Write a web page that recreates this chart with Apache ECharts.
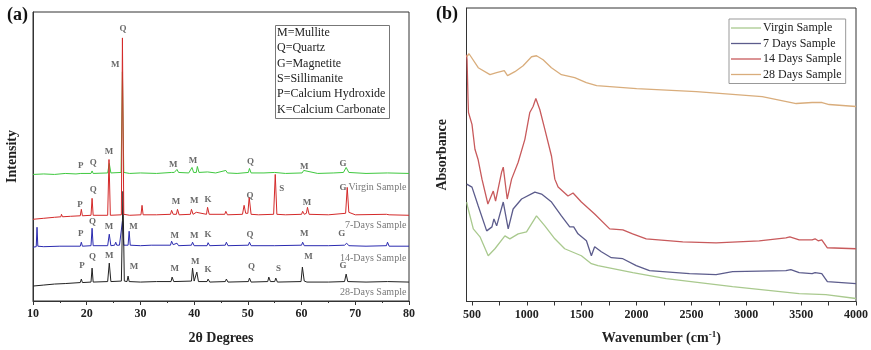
<!DOCTYPE html>
<html>
<head>
<meta charset="utf-8">
<script src="https://cdn.jsdelivr.net/npm/echarts@6/dist/echarts.min.js"></script>
<style>
  html, body { margin: 0; padding: 0; background: #fff; }
  #chart { width: 871px; height: 350px; }
</style>
</head>
<body>
<div id="chart"></div>
<script>
// ---- panel (a): XRD patterns, stacked traces [2theta, intensity (offset a.u.)]
const xrdVirgin = [[10,127],[12,127.5],[14,127],[16,128],[18,127.5],[18.9,128],[19.0,129.5],[19.2,128],[20.8,128],[21.0,130.5],[21.2,128],[23.9,128.5],[24.2,138],[24.5,128.5],[26.4,129],[26.65,230],[26.9,129],[28,128],[30,128.5],[33,128],[35.8,129],[36.0,131],[36.3,129],[36.8,132],[37.1,129],[39,128.5],[39.6,134],[39.9,129],[40.4,129],[40.6,135],[40.9,129],[42.5,129.5],[44,128.5],[45.9,131],[46.2,128.5],[48,128],[50.1,129],[50.3,133],[50.6,128.5],[53,128.5],[55,129],[57,128],[60.1,128.5],[60.4,131],[60.7,129],[63,128],[66,128.5],[67.8,129],[68.3,134],[68.8,129],[72,128],[76,128.5],[80,128]];
const xrd7Days = [[10,82],[12,83],[14,84],[15.2,84.5],[15.3,87],[15.5,84.5],[17,85],[18.8,85.5],[19.0,92],[19.2,85.5],[20.8,86],[21.0,103],[21.2,86],[23.9,86],[24.15,142],[24.4,86],[26.45,86.5],[26.65,264],[26.9,87],[28,86],[30.1,86.5],[30.3,96],[30.5,86.5],[33,86.5],[35.6,87],[35.8,91],[36.1,87],[36.7,87],[36.9,92],[37.2,86.5],[39.3,87],[39.5,92],[39.8,87],[40.4,89],[40.7,87],[42.3,87],[42.5,94],[42.8,87],[45.7,87],[45.9,90],[46.2,86.5],[49.0,87],[49.3,96],[49.6,88],[50.0,88],[50.25,104],[50.6,87],[52,86.5],[54.8,87],[55.1,127],[55.4,87],[57,86.5],[60.0,87],[60.2,90],[60.5,87],[60.9,88],[61.1,94],[61.4,87],[65,86.5],[68.2,88],[68.5,114],[68.8,89],[70,86.5],[75.8,87],[76,89],[76.3,86.5],[80,86]];
const xrd14Days = [[10,54],[10.6,54.5],[10.75,74],[10.9,55],[12,54.5],[15,55],[18.8,55],[19.0,59],[19.2,55],[20.8,55.5],[21.0,73],[21.2,55.5],[23.9,55.5],[24.2,67],[24.5,55.5],[25.2,56],[25.4,59],[25.6,56],[25.9,58],[26.1,56],[26.45,56],[26.65,80],[26.9,56],[27.7,56],[27.9,70],[28.1,56],[30,55.5],[32,56],[35.6,56],[35.8,60],[36.1,56.5],[36.8,58],[37.1,55.5],[39.5,56],[39.7,59],[40,55.5],[42.4,55.5],[42.6,58.5],[42.9,55.5],[45.8,56],[46,59],[46.3,55.5],[50.1,56],[50.3,59],[50.6,55.5],[55,55.5],[60,56],[60.2,59],[60.5,55.5],[65,55.5],[68.0,56],[68.4,58],[68.8,55.5],[72,55],[75.8,55.5],[76.0,59],[76.3,55],[80,55]];
const xrd28Days = [[10,15],[12,16],[14,17],[16,17.5],[18.8,18.5],[19.0,22],[19.2,18.5],[20.8,19],[21.0,33],[21.2,19],[23.9,19.5],[24.2,38],[24.5,19.5],[26.45,20],[26.75,110],[27.0,20],[27.5,19.5],[27.7,25],[27.9,19.5],[30,19],[33,19.5],[35.7,19.5],[35.9,24],[36.2,19.5],[39.5,20],[39.7,33],[40,20],[40.3,20],[40.5,29],[40.8,19.5],[42.4,19.5],[42.6,22],[42.9,19],[45.8,19.5],[46,22],[46.3,19],[50.1,19.5],[50.3,23],[50.6,19],[53.7,19.5],[53.9,24],[54.2,19.5],[55,19.5],[55.2,23],[55.5,19],[59.9,19.5],[60.15,34],[60.5,20],[60.8,21],[61.0,19],[65,19],[68.0,19.5],[68.3,27],[68.6,19.5],[72,19],[76,19.5],[80,19]];

// phase letters above peaks [2theta, height, letter]
const peakLabels = [
  [18.9,136,'P'],[21.2,139,'Q'],[24.15,150,'M'],[25.3,237,'M'],[26.75,273,'Q'],[36.1,137,'M'],[39.8,141,'M'],[50.5,140,'Q'],[60.5,135,'M'],[67.7,138,'G'],
  [18.75,97,'P'],[21.2,112,'Q'],[36.6,100,'M'],[40.0,101,'M'],[42.6,102,'K'],[50.4,106,'Q'],[56.3,113,'S'],[61.0,99,'M'],[67.7,114,'G'],
  [18.9,68,'P'],[21.1,80,'Q'],[24.15,75,'M'],[28.7,75,'M'],[36.4,66,'M'],[40.0,66,'M'],[42.6,67,'K'],[50.4,67,'Q'],[60.5,68,'M'],[67.5,68,'G'],
  [19.1,35,'P'],[21.1,44,'Q'],[24.2,45,'M'],[28.8,34,'M'],[36.4,32,'M'],[40.2,39,'M'],[42.6,31,'K'],[50.7,34,'Q'],[55.7,32,'S'],[61.3,44,'M'],[67.7,35,'G']
];
const sampleNames = [[79.6,114,'Virgin Sample'],[79.6,76,'7-Days Sample'],[79.6,43,'14-Days Sample'],[79.6,9,'28-Days Sample']];
const phaseKey = ['M=Mullite','Q=Quartz','G=Magnetite','S=Sillimanite','P=Calcium Hydroxide','K=Calcium Carbonate'];

// ---- panel (b): FTIR spectra [wavenumber, absorbance (offset a.u.)]
const ftirVirgin = [[452,100],[461,95],[512,73],[573,65],[648,46],[709,53],[800,66],[845,63],[921,68],[997,70],[1088,86],[1164,76],[1255,63],[1345,53],[1497,46],[1588,38],[1648,36],[1966,29],[2270,23],[2875,15],[3482,8],[3725,7],[4000,3]];
const ftir7Days = [[452,118],[461,116],[500,115],[557,96],[634,71],[682,75],[700,83],[725,76],[785,100],[830,73],[875,93],[952,103],[1073,110],[1134,108],[1225,100],[1315,86],[1391,75],[1427,75],[1466,68],[1543,61],[1588,46],[1618,55],[1679,50],[1770,44],[1875,43],[1997,36],[2118,31],[2482,28],[2725,27],[2875,30],[3361,31],[3406,32],[3482,29],[3600,28],[3627,29],[3688,28],[3739,20],[4000,18]];
const ftir14Days = [[450,248],[455,243],[464,203],[468,190],[500,178],[527,153],[555,143],[591,123],[645,98],[694,111],[715,101],[770,130],[785,135],[821,103],[861,123],[921,140],[982,163],[1027,190],[1057,196],[1082,204],[1118,193],[1164,173],[1225,146],[1255,123],[1285,115],[1375,106],[1421,109],[1497,100],[1618,88],[1755,73],[1875,72],[1964,68],[2088,63],[2421,60],[2725,59],[3118,61],[3361,64],[3397,65],[3482,62],[3600,62],[3627,63],[3655,61],[3688,62],[3739,54],[4000,53]];
const ftir28Days = [[452,246],[461,248],[473,249],[557,235],[664,228],[724,230],[794,232],[824,227],[891,231],[966,237],[1043,246],[1088,247],[1148,243],[1224,235],[1315,228],[1436,225],[1542,220],[1636,217],[2000,214],[2545,211],[3145,206],[3455,199],[3600,200],[3691,200],[3755,198],[4000,196]];
const ftirNames = ['Virgin Sample','7 Days Sample','14 Days Sample','28 Days Sample'];
const ftirLabelTicks = [500,1000,1500,2000,2500,3000,3500,4000];
const ftirTicks = [500,750,1000,1250,1500,1750,2000,2250,2500,2750,3000,3250,3500,3750,4000];

const serif = "'Liberation Serif', 'DejaVu Serif', serif";
const chart = echarts.init(document.getElementById('chart'), null, { renderer: 'canvas' });

const lineSeries = (name, data, color, axis, width) => ({
  name: name,
  type: 'line',
  xAxisIndex: axis,
  yAxisIndex: axis,
  data: data,
  symbol: 'none',
  silent: true,
  animation: false,
  lineStyle: { color: color, width: width },
  itemStyle: { color: color },
});

const textSeries = (data, opts) => ({
  type: 'scatter',
  xAxisIndex: 0,
  yAxisIndex: 0,
  data: data,
  symbolSize: 1,
  silent: true,
  animation: false,
  itemStyle: { color: 'rgba(0,0,0,0)' },
  label: Object.assign({
    show: true,
    formatter: (p) => p.value[2],
    fontFamily: serif,
    color: '#555',
  }, opts),
  z: 5,
});

const keyTexts = phaseKey.map((t, i) => ({
  type: 'text',
  left: 277,
  top: 27 + i * 15.3,
  z: 11,
  style: { text: t, font: '12px ' + serif, fill: '#222' },
}));

const option = {
  backgroundColor: '#fff',
  animation: false,
  grid: [
    { left: 33, right: 462, top: 12, bottom: 48, show: true, borderColor: '#333', borderWidth: 1 },
    { left: 466.5, right: 14, top: 8, bottom: 47, show: true, borderColor: '#333', borderWidth: 1 },
  ],
  legend: {
    data: ftirNames,
    orient: 'vertical',
    left: 729,
    top: 19,
    padding: [2, 4, 2, 2],
    icon: 'rect',
    itemWidth: 30,
    itemHeight: 1.3,
    itemGap: 1.5,
    borderColor: '#999',
    borderWidth: 1,
    selectedMode: false,
    textStyle: { fontFamily: serif, fontSize: 12, color: '#222', lineHeight: 14, padding: [0, 0, 0, -3] },
  },
  xAxis: [
    {
      gridIndex: 0, type: 'value', min: 10, max: 80, interval: 10,
      name: '2θ Degrees', nameLocation: 'middle', nameGap: 30,
      nameTextStyle: { fontFamily: serif, fontSize: 14, fontWeight: 'bold', color: '#222' },
      axisLine: { lineStyle: { color: '#333' } },
      axisTick: { inside: false, length: 4, lineStyle: { color: '#333' } },
      minorTick: { show: true, splitNumber: 2, length: 2, lineStyle: { color: '#333' } },
      axisLabel: { fontFamily: serif, fontSize: 12, fontWeight: 'bold', color: '#222', margin: 7 },
      splitLine: { show: false },
    },
    {
      gridIndex: 1, type: 'value', min: 450, max: 4000,
      name: 'Wavenumber (cm{sup|-1})', nameLocation: 'middle', nameGap: 29,
      nameTextStyle: {
        fontFamily: serif, fontSize: 14, fontWeight: 'bold', color: '#222',
        rich: { sup: { fontFamily: serif, fontSize: 9, fontWeight: 'bold', color: '#222', verticalAlign: 'top', padding: [0, 0, 6, 0] } },
      },
      axisLine: { lineStyle: { color: '#333' } },
      axisTick: { inside: false, length: 4, customValues: ftirTicks, lineStyle: { color: '#333' } },
      axisLabel: {
        customValues: ftirLabelTicks, formatter: (v) => String(v),
        fontFamily: serif, fontSize: 12, fontWeight: 'bold', color: '#222', margin: 7,
      },
      splitLine: { show: false },
    },
  ],
  yAxis: [
    {
      gridIndex: 0, type: 'value', min: 0, max: 290,
      name: 'Intensity', nameLocation: 'middle', nameGap: 14, nameRotate: 90,
      nameTextStyle: { fontFamily: serif, fontSize: 14, fontWeight: 'bold', color: '#222' },
      axisLine: { lineStyle: { color: '#333' } },
      axisTick: { show: false }, axisLabel: { show: false }, splitLine: { show: false },
    },
    {
      gridIndex: 1, type: 'value', min: 0, max: 295,
      name: 'Absorbance', nameLocation: 'middle', nameGap: 17, nameRotate: 90,
      nameTextStyle: { fontFamily: serif, fontSize: 14, fontWeight: 'bold', color: '#222' },
      axisLine: { lineStyle: { color: '#333' } },
      axisTick: { show: false }, axisLabel: { show: false }, splitLine: { show: false },
    },
  ],
  graphic: [
    { type: 'text', left: 7, top: 6, style: { text: '(a)', font: 'bold 18px ' + serif, fill: '#111' } },
    { type: 'text', left: 436, top: 5, style: { text: '(b)', font: 'bold 18px ' + serif, fill: '#111' } },
    { type: 'rect', left: 275, top: 25, z: 10, shape: { width: 114, height: 93 }, style: { fill: '#fff', stroke: '#777', lineWidth: 1 } },
    ...keyTexts,
  ],
  series: [
    lineSeries('xrd-virgin', xrdVirgin, '#3fc83f', 0, 1),
    lineSeries('xrd-14', xrd14Days, '#2b2bb0', 0, 1),
    lineSeries('xrd-28', xrd28Days, '#222222', 0, 1),
    lineSeries('xrd-7', xrd7Days, '#d42a2a', 0, 1),
    textSeries(peakLabels, { position: 'inside', fontSize: 9, fontWeight: 'bold', color: '#444' }),
    textSeries(sampleNames, { position: 'left', distance: 0, fontSize: 10, color: '#555' }),
    lineSeries(ftirNames[0], ftirVirgin, '#a9c98e', 1, 1.3),
    lineSeries(ftirNames[1], ftir7Days, '#5c5c8c', 1, 1.3),
    lineSeries(ftirNames[2], ftir14Days, '#c85a5c', 1, 1.3),
    lineSeries(ftirNames[3], ftir28Days, '#d9ad7c', 1, 1.3),
  ],
};

chart.setOption(option);
</script>
</body>
</html>
